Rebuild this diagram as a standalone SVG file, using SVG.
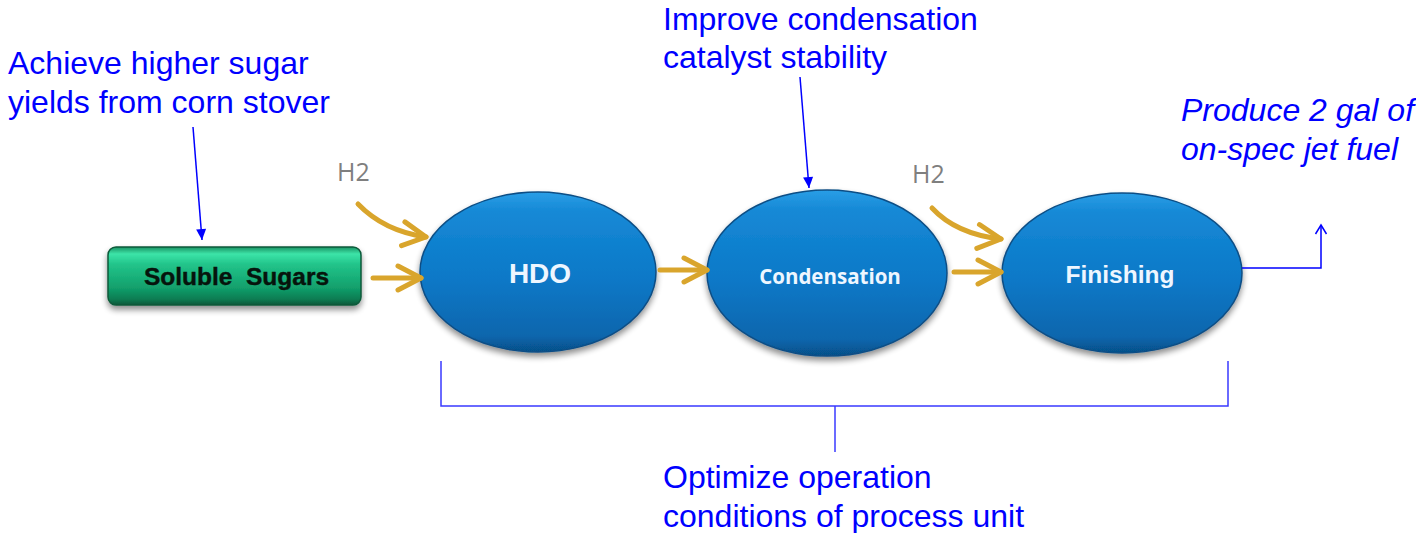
<svg xmlns="http://www.w3.org/2000/svg" width="1416" height="533" viewBox="0 0 1416 533">
  <defs>
    <style>
      .note { font-family: "Liberation Sans", Arial, sans-serif; font-size: 32px; fill: #0000ff; }
      .note-it { font-style: italic; }
      .h2 { font-family: "Open Sans", "Liberation Sans", sans-serif; font-size: 25px; fill: #7f7f7f; }
      .unit { fill: url(#unitFill); stroke: #0b4e85; stroke-width: 1.5; filter: url(#softShadow); }
      .unit-text { font-family: "Liberation Sans", Arial, sans-serif; font-weight: bold; fill: #eef6ff; text-anchor: middle; }
      .unit-text.rounded { font-family: "Open Sans", "Liberation Sans", sans-serif; }
      .feed { stroke: #d9a52c; stroke-width: 5; fill: none; stroke-linecap: round; marker-end: url(#chevron); }
      .callout { stroke: #0000ff; stroke-width: 1.5; fill: none; }
      .bracket { stroke: #3a3aff; stroke-width: 1.5; fill: none; }
    </style>

    <linearGradient id="unitFill" x1="0" y1="0" x2="0" y2="1">
      <stop offset="0" stop-color="#2a9ee6"/>
      <stop offset="0.12" stop-color="#1689d6"/>
      <stop offset="0.55" stop-color="#0a78c7"/>
      <stop offset="0.9" stop-color="#0866ad"/>
      <stop offset="1" stop-color="#064f88"/>
    </linearGradient>

    <linearGradient id="sugarFill" x1="0" y1="0" x2="0" y2="1">
      <stop offset="0" stop-color="#1a9262"/>
      <stop offset="0.12" stop-color="#3ce4a8"/>
      <stop offset="0.3" stop-color="#22c48a"/>
      <stop offset="0.7" stop-color="#12a06c"/>
      <stop offset="0.9" stop-color="#0d7c52"/>
      <stop offset="1" stop-color="#095638"/>
    </linearGradient>

    <filter id="softShadow" x="-20%" y="-20%" width="140%" height="150%">
      <feGaussianBlur in="SourceAlpha" stdDeviation="3"/>
      <feOffset dy="4" result="blur"/>
      <feComponentTransfer><feFuncA type="linear" slope="0.45"/></feComponentTransfer>
      <feMerge><feMergeNode/><feMergeNode in="SourceGraphic"/></feMerge>
    </filter>

    <!-- open chevron head for the golden feed arrows -->
    <marker id="chevron" markerUnits="userSpaceOnUse" markerWidth="40" markerHeight="40" refX="0" refY="0" orient="auto" overflow="visible">
      <path d="M-23,-12 L0,0 L-23,12" fill="none" stroke="#d9a52c" stroke-width="5" stroke-linecap="round" stroke-linejoin="round"/>
    </marker>

    <!-- filled head for callout pointers -->
    <marker id="dart" markerUnits="userSpaceOnUse" markerWidth="14" markerHeight="14" refX="0" refY="0" orient="auto" overflow="visible">
      <path d="M-11,-5 L0,0 L-11,5 Z" fill="#0000ff"/>
    </marker>

    <!-- open head for the product outlet -->
    <marker id="openHead" markerUnits="userSpaceOnUse" markerWidth="14" markerHeight="14" refX="0" refY="0" orient="auto" overflow="visible">
      <path d="M-9,-5.5 L0,0 L-9,5.5" fill="none" stroke="#0000ff" stroke-width="1.5"/>
    </marker>
  </defs>

  <rect width="1416" height="533" fill="#ffffff"/>

  <!-- annotations -->
  <g id="note-sugar">
    <text class="note" x="8" y="74">Achieve higher sugar</text>
    <text class="note" x="8" y="113">yields from corn stover</text>
  </g>
  <g id="note-catalyst">
    <text class="note" x="663" y="30">Improve condensation</text>
    <text class="note" x="663" y="68">catalyst stability</text>
  </g>
  <g id="note-product">
    <text class="note note-it" x="1181" y="121">Produce 2 gal of</text>
    <text class="note note-it" x="1181" y="160">on-spec jet fuel</text>
  </g>
  <g id="note-optimize">
    <text class="note" x="663" y="488">Optimize operation</text>
    <text class="note" x="663" y="527">conditions of process unit</text>
  </g>

  <g id="h2-labels">
    <text class="h2" x="337" y="181">H2</text>
    <text class="h2" x="912" y="183">H2</text>
  </g>

  <!-- feed -->
  <g id="soluble-sugars">
    <rect x="108" y="247" width="253" height="58" rx="8" fill="url(#sugarFill)" stroke="#0b5a3a" stroke-width="1.5" filter="url(#softShadow)"/>
    <text x="236.5" y="285" font-family="'Liberation Sans', Arial, sans-serif" font-weight="bold" font-size="24.5" fill="#06140c" stroke="#06140c" stroke-width="0.4" text-anchor="middle" xml:space="preserve">Soluble  Sugars</text>
  </g>

  <!-- process units -->
  <g id="hdo">
    <ellipse class="unit" cx="538" cy="272" rx="118" ry="80"/>
    <text class="unit-text" x="540" y="283" font-size="28">HDO</text>
  </g>
  <g id="condensation">
    <ellipse class="unit" cx="827" cy="273" rx="120" ry="83"/>
    <text class="unit-text rounded" x="830" y="284" font-size="20.5">Condensation</text>
  </g>
  <g id="finishing">
    <ellipse class="unit" cx="1122" cy="273" rx="120" ry="80"/>
    <text class="unit-text" x="1120" y="283" font-size="24.5">Finishing</text>
  </g>

  <!-- connectors -->
  <g id="connectors">
    <path class="feed" d="M358,204 Q384,231 426,237"/>
    <path class="feed" d="M373,278 L421,278"/>
    <path class="feed" d="M660,270 L707,270"/>
    <path class="feed" d="M932,208 Q956,234 1001,239"/>
    <path class="feed" d="M954,272 L1001,272"/>

    <path class="callout" d="M193,127 L202,240" marker-end="url(#dart)"/>
    <path class="callout" d="M800,77 L809,188" marker-end="url(#dart)"/>
    <path class="callout" d="M1242,268 L1321,268 L1321,225" marker-end="url(#openHead)"/>

    <path class="bracket" d="M441,361 L441,406 L1228,406 L1228,361"/>
    <path class="bracket" d="M835,406 L835,452"/>
  </g>
</svg>
